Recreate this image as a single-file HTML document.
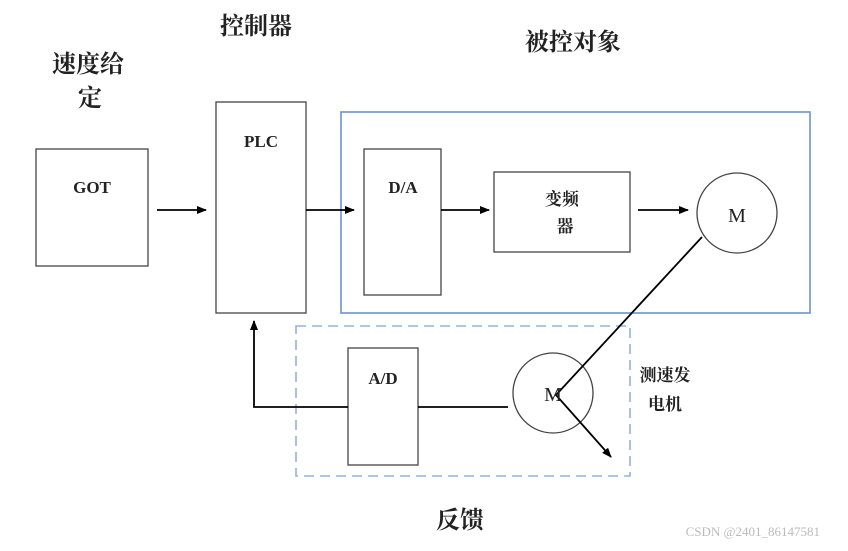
<!DOCTYPE html>
<html><head><meta charset="utf-8"><style>
body{margin:0;background:#fff;}
svg text{font-family:"Liberation Serif","Noto Serif CJK SC",serif;font-weight:bold;fill:#222;}
</style></head><body>
<svg width="848" height="546" viewBox="0 0 848 546" xmlns="http://www.w3.org/2000/svg">
<defs><marker id="a" markerWidth="10" markerHeight="8" refX="9" refY="4" orient="auto" markerUnits="userSpaceOnUse"><path d="M0,0 L10,4 L0,8 Z" fill="#000"/></marker></defs>
<g fill="none" stroke="#444" stroke-width="1.3">
<rect x="36" y="149" width="112" height="117"/>
<rect x="216" y="102" width="90" height="211"/>
<rect x="364" y="149" width="77" height="146"/>
<rect x="494" y="172" width="136" height="80"/>
<circle cx="737" cy="213" r="40"/>
<rect x="348" y="348" width="70" height="117"/>
<circle cx="553" cy="393" r="40"/>
</g>
<rect x="341" y="112" width="469" height="201" fill="none" stroke="#6b93cc" stroke-width="1.6"/>
<rect x="296" y="326" width="334" height="150" fill="none" stroke="#93b2dc" stroke-width="1.6" stroke-dasharray="10,6"/>
<g stroke="#000" stroke-width="1.8" fill="none" marker-end="url(#a)">
<line x1="157" y1="210" x2="206" y2="210"/>
<line x1="306" y1="210" x2="354" y2="210"/>
<line x1="441" y1="210" x2="489" y2="210"/>
<line x1="638" y1="210" x2="688" y2="210"/>
<polyline points="348,407 254,407 254,321"/>
<polyline points="702,237 556,395 611,457"/>
</g>
<line x1="418" y1="407" x2="508" y2="407" stroke="#000" stroke-width="1.8"/>
<g font-size="17" text-anchor="middle">
<text x="92" y="193">GOT</text>
<text x="261" y="147">PLC</text>
<text x="403" y="193">D/A</text>
<text x="383" y="384">A/D</text>
</g>
<g font-size="20" text-anchor="middle">
<text x="737" y="222" style="font-weight:normal">M</text>
<text x="553" y="401" style="font-weight:normal">M</text>
</g>
<g font-size="17" text-anchor="middle">
<text x="562" y="205">变频</text>
<text x="565" y="232">器</text>
<text x="665" y="381">测速发</text>
<text x="665" y="410">电机</text>
</g>
<g font-size="24" text-anchor="middle">
<text x="88" y="72">速度给</text>
<text x="90" y="106">定</text>
<text x="256" y="34">控制器</text>
<text x="573" y="50">被控对象</text>
<text x="460" y="528">反馈</text>
</g>
<text x="820" y="536" font-size="13" style="font-weight:normal;fill:#bbb" text-anchor="end">CSDN @2401_86147581</text>
</svg>
</body></html>
